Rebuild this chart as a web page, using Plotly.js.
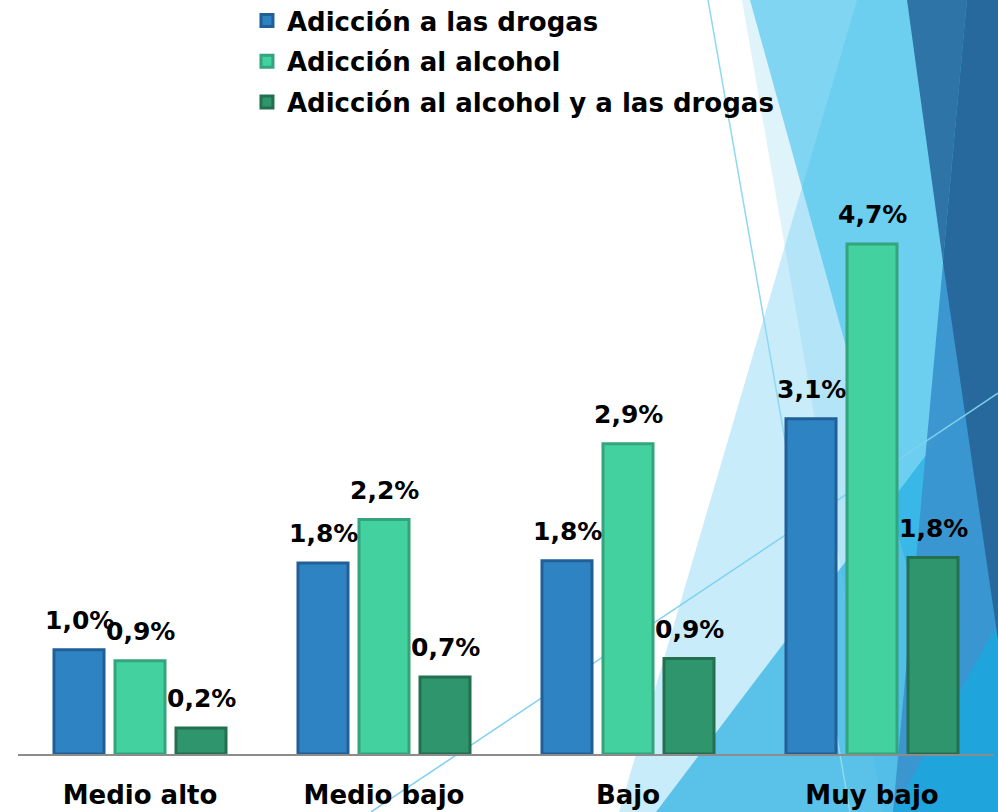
<!DOCTYPE html>
<html>
<head>
<meta charset="utf-8">
<script src="https://cdn.plot.ly/plotly-3.0.1.min.js"></script>
<style>html,body{margin:0;padding:0;background:#fff;}#chart{width:998px;height:812px;}</style>
</head>
<body>
<div id="chart"></div>
<script>
// ---- data ----
const categories = ['Medio alto', 'Medio bajo', 'Bajo', 'Muy bajo'];
const seriesNames = ['Adicción a las drogas', 'Adicción al alcohol', 'Adicción al alcohol y a las drogas'];
const drogas  = [0.96, 1.76, 1.78, 3.09];
const alcohol = [0.86, 2.16, 2.86, 4.70];
const ambas   = [0.24, 0.71, 0.88, 1.81];

// ---- styles ----
const FONT = 'DejaVu Sans, Verdana, sans-serif';
const fills = ['#2e83c3', '#43d1a0', '#2e956c'];
const lines = ['#215f96', '#34a47d', '#236f50'];

const M = {l: 18, r: 4, t: 130, b: 58};
const W = 998, H = 812;
const PW = W - M.l - M.r, PH = H - M.t - M.b;
const BARGAP = 0.25, GROUPGAP = 0.18;
function px(x, y) { return ((x - M.l) / PW).toFixed(4) + ',' + ((H - M.b - y) / PH).toFixed(4); }
function poly(pts) { return 'M' + pts.map(p => px(p[0], p[1])).join('L') + 'Z'; }
function shape(pts, color) {
  return {type: 'path', xref: 'paper', yref: 'paper', layer: 'below', path: poly(pts),
          fillcolor: color, line: {width: 0}};
}
function seg(a, b, color, w) {
  return {type: 'path', xref: 'paper', yref: 'paper', layer: 'below',
          path: 'M' + px(a[0], a[1]) + 'L' + px(b[0], b[1]), line: {color: color, width: w}};
}

// decorative background facets
const shapes = [
  shape([[742,0],[998,0],[998,812],[883,812]], 'rgba(150,215,240,0.3)'),
  shape([[857,0],[998,0],[998,812],[619,812]], 'rgba(100,200,240,0.35)'),
  shape([[750,0],[998,0],[998,812],[975,812]], 'rgba(50,190,235,0.55)'),
  shape([[656,812],[998,360],[998,812]], 'rgba(30,170,225,0.65)'),
  shape([[967,0],[998,0],[998,812],[893,812]], 'rgba(58,147,207,0.95)'),
  shape([[893,812],[998,623],[998,812]], '#1fa5dc'),
  shape([[907,0],[967,0],[943,262]], '#2e74a6'),
  shape([[967,0],[998,0],[998,640],[943,262]], '#27699c'),
  seg([708,0],[850,812], '#8fd8f2', 1.5),
  seg([371,812],[998,393], '#7fd0f0', 1.5),
];

const vals = [drogas, alcohol, ambas];
const traces = vals.map((v, i) => ({
  type: 'bar',
  name: seriesNames[i],
  x: categories,
  y: v,
  legendgroup: 'g' + i,
  marker: {color: fills[i], line: {color: lines[i], width: 3}},
  hoverinfo: 'none'
}));

// value labels above bars
const slot = (1 - BARGAP) * (PW / categories.length) / vals.length;
const fmt = v => v.toFixed(1).replace('.', ',') + '%';
const annotations = [];
vals.forEach((v, i) => {
  v.forEach((val, j) => {
    annotations.push({
      x: categories[j], y: val, xref: 'x', yref: 'y',
      text: fmt(val), showarrow: false,
      xanchor: 'center', yanchor: 'bottom',
      xshift: (i - (vals.length - 1) / 2) * slot, yshift: 13,
      font: {family: FONT, size: 25, color: '#000', weight: 'bold'}
    });
  });
});

const layout = {
  width: W, height: H,
  margin: {l: M.l, r: M.r, t: M.t, b: M.b, autoexpand: false},
  paper_bgcolor: '#ffffff',
  plot_bgcolor: 'rgba(0,0,0,0)',
  separators: ',.',
  barmode: 'group',
  bargap: BARGAP,
  bargroupgap: GROUPGAP,
  font: {family: FONT, color: '#000'},
  xaxis: {
    showline: true, linecolor: '#8c8c8c', linewidth: 2,
    ticks: '', showgrid: false, zeroline: false,
    tickfont: {family: FONT, size: 26, color: '#000', weight: 'bold'},
    ticklabelstandoff: 17
  },
  yaxis: {visible: false, range: [0, 5.75], showgrid: false, zeroline: false},
  showlegend: true,
  legend: {
    x: 0.2346, xanchor: 'left', y: 1.213, yanchor: 'top',
    orientation: 'v', traceorder: 'grouped', tracegroupgap: 4,
    bgcolor: 'rgba(0,0,0,0)',
    font: {family: FONT, size: 26, color: '#000', weight: 'bold'},
    itemwidth: 30
  },
  annotations: annotations,
  shapes: shapes
};

Plotly.newPlot('chart', traces, layout, {displayModeBar: false, staticPlot: true});
</script>
</body>
</html>
